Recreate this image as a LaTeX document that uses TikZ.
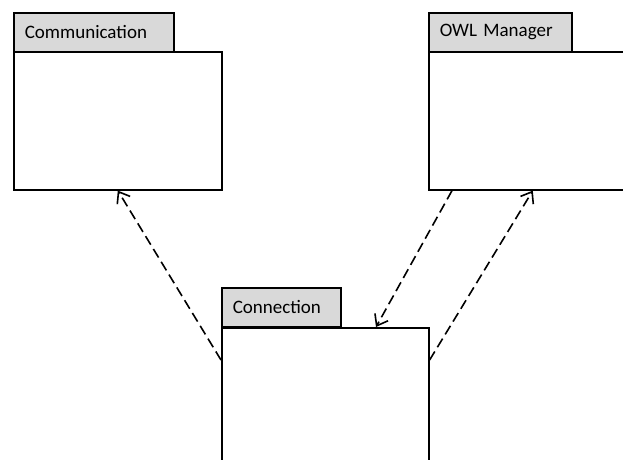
\documentclass[tikz,border=0pt]{standalone}
\usepackage{fontspec}
\setmainfont{Carlito}
\usetikzlibrary{arrows.meta}
\usetikzlibrary{calc}

\begin{document}
\begin{tikzpicture}[x = 1pt, y = -1pt]
\tikzstyle{tabStyle} = [draw, line width = 1.6pt, fill = black!15, anchor = north west, inner xsep = 11pt, inner ysep = 0pt, minimum height = 39pt, align = left, font = \fontsize{19}{22}\selectfont]
\tikzstyle{bodyStyle} = [draw, line width = 1.6pt, fill = white, anchor = north west, minimum width = 208pt, minimum height = 138pt, inner sep = 0pt]
\tikzstyle{depStyle} = [line width = 1.6pt, dash pattern = on 10pt off 5pt, -{Straight Barb[length = 10pt, width = 15pt, line width = 1.6pt]}]
\useasboundingbox (0,0) rectangle (623,459);
\clip (0,0) rectangle (623,459);
% packages
\node[tabStyle, text width = 138pt] (commTab) at (13,12) {Communication};
\node[bodyStyle] (comm) at (13,51) {};
\node[tabStyle, text width = 121pt] (owlTab) at (428,12) {OWL Manager};
\node[bodyStyle] (owl) at (428,51) {};
\node[tabStyle, text width = 97pt] (connTab) at (221,287) {Connection};
\node[bodyStyle, minimum width = 207pt, minimum height = 150pt] (conn) at (221,327) {};
% dependencies
\coordinate (connLeft) at ($(conn.north west) + (0,33)$);
\coordinate (connRight) at ($(conn.north east) + (0,33)$);
\coordinate (connTop) at ($(conn.north west) + (155,0)$);
\coordinate (owlLeft) at ($(owl.south west) + (24,0)$);
\draw[depStyle] (connLeft) -- (comm.south);
\draw[depStyle] (owlLeft) -- (connTop);
\draw[depStyle] (connRight) -- (owl.south);
\end{tikzpicture}
\end{document}
